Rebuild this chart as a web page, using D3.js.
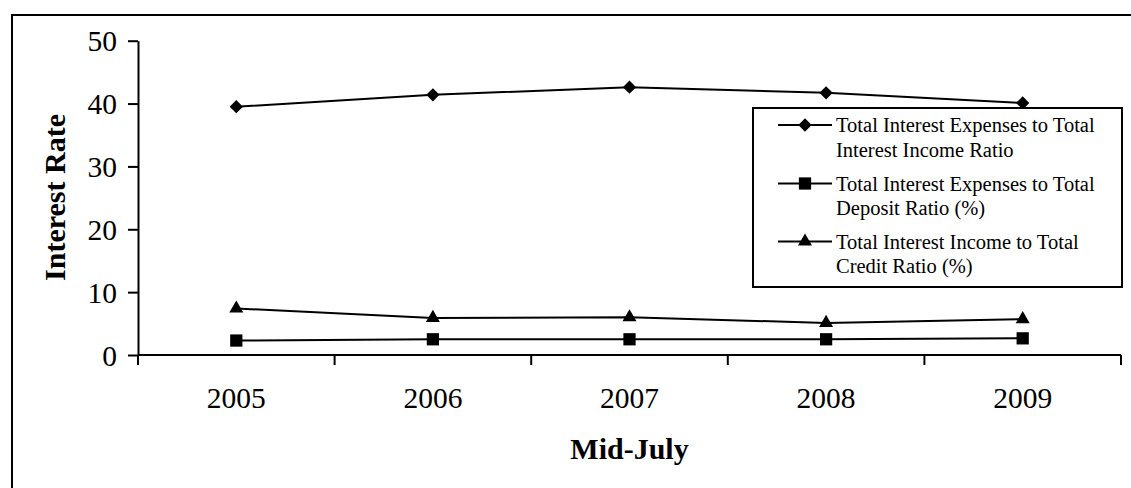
<!DOCTYPE html>
<html>
<head>
<meta charset="utf-8">
<script src="https://cdn.jsdelivr.net/npm/d3@7"></script>
<style>
  html, body { margin: 0; padding: 0; background: #fff; }
  svg { display: block; }
  text { font-family: "Liberation Serif", "Times New Roman", serif; fill: #000; }
</style>
</head>
<body>
<svg id="chart" width="1131" height="488"></svg>
<script>
// Mid-July year labels
const years = ["2005", "2006", "2007", "2008", "2009"];
// Total interest expenses / total interest income ratio
const expToIncome = [39.5, 41.4, 42.6, 41.7, 40.1];
// Total interest expenses / total deposit ratio (%)
const expToDeposit = [2.3, 2.5, 2.5, 2.5, 2.65];
// Total interest income / total credit ratio (%)
const incomeToCredit = [7.4, 5.9, 6.0, 5.1, 5.7];
const yTicks = [0, 10, 20, 30, 40, 50];

const seriesNames = [
  ["Total Interest Expenses to Total", "Interest Income Ratio"],
  ["Total Interest Expenses to Total", "Deposit Ratio (%)"],
  ["Total Interest Income to Total", "Credit Ratio (%)"]
];

const series = [
  { values: expToIncome, shape: "diamond", name: seriesNames[0] },
  { values: expToDeposit, shape: "square", name: seriesNames[1] },
  { values: incomeToCredit, shape: "triangle", name: seriesNames[2] }
];

const svg = d3.select("#chart");

// outer frame (open to the right and bottom)
svg.append("rect")
  .attr("x", 12).attr("y", 15)
  .attr("width", 1140).attr("height", 500)
  .attr("fill", "none").attr("stroke", "#000").attr("stroke-width", 2);

const x = d3.scaleBand().domain(years).range([138, 1121]).padding(0);
const y = d3.scaleLinear().domain([0, 50]).range([355, 40.7]);
const cx = d => x(d) + x.bandwidth() / 2;

// y axis
const yAxis = svg.append("g")
  .attr("transform", `translate(${x.range()[0]},0)`)
  .call(d3.axisLeft(y).tickValues(yTicks).tickSize(10).tickSizeOuter(0).tickPadding(11));
yAxis.select(".domain").attr("stroke-width", 2);
yAxis.selectAll(".tick line").attr("stroke-width", 2);
yAxis.selectAll(".tick text")
  .style("font-family", '"Liberation Serif", "Times New Roman", serif')
  .style("font-size", "29.5px")
  .attr("dy", "0.34em");

// x axis: baseline, category boundary ticks, centred labels
const xg = svg.append("g");
xg.append("line")
  .attr("x1", x.range()[0]).attr("x2", x.range()[1])
  .attr("y1", y(0)).attr("y2", y(0))
  .attr("stroke", "#000").attr("stroke-width", 2);
const bounds = d3.range(years.length + 1).map(i => x.range()[0] + i * x.step());
xg.selectAll("line.b").data(bounds).join("line")
  .attr("class", "b")
  .attr("x1", d => d).attr("x2", d => d)
  .attr("y1", y(0)).attr("y2", y(0) + 10)
  .attr("stroke", "#000").attr("stroke-width", 2);
xg.selectAll("text").data(years).join("text")
  .attr("x", d => cx(d)).attr("y", 408)
  .attr("text-anchor", "middle")
  .style("font-size", "29.5px")
  .text(d => d);

// axis titles
svg.append("text")
  .attr("transform", "translate(65,197.5) rotate(-90)")
  .attr("text-anchor", "middle")
  .style("font-size", "30px").style("font-weight", "bold")
  .text("Interest Rate");
svg.append("text")
  .attr("x", (x.range()[0] + x.range()[1]) / 2).attr("y", 459)
  .attr("text-anchor", "middle")
  .style("font-size", "30px").style("font-weight", "bold")
  .text("Mid-July");

// marker generators
function symbolPath(shape) {
  if (shape === "diamond") return d3.symbol(d3.symbolSquare, 88)();
  if (shape === "square") return d3.symbol(d3.symbolSquare, 150)();
  return d3.symbol(d3.symbolTriangle, 85)();
}
function symbolRot(shape) { return shape === "diamond" ? 45 : 0; }

const line = d3.line().x(d => cx(d.year)).y(d => y(d.v));

series.forEach(s => {
  const pts = years.map((yr, i) => ({ year: yr, v: s.values[i] }));
  svg.append("path")
    .datum(pts)
    .attr("d", line)
    .attr("fill", "none").attr("stroke", "#000").attr("stroke-width", 2);
  svg.selectAll(null).data(pts).join("path")
    .attr("d", symbolPath(s.shape))
    .attr("transform", d => `translate(${cx(d.year)},${y(d.v)}) rotate(${symbolRot(s.shape)})`)
    .attr("fill", "#000");
});

// legend
const lg = svg.append("g");
lg.append("rect")
  .attr("x", 753).attr("y", 108).attr("width", 369).attr("height", 179)
  .attr("fill", "#fff").attr("stroke", "#000").attr("stroke-width", 2);
const rowY = [125, 183.5, 241.5];
series.forEach((s, i) => {
  const ry = rowY[i];
  lg.append("line")
    .attr("x1", 778).attr("x2", 832).attr("y1", ry).attr("y2", ry)
    .attr("stroke", "#000").attr("stroke-width", 2);
  lg.append("path")
    .attr("d", symbolPath(s.shape))
    .attr("transform", `translate(805,${ry}) rotate(${symbolRot(s.shape)})`)
    .attr("fill", "#000");
  s.name.forEach((t, j) => {
    lg.append("text")
      .attr("x", 836).attr("y", ry + 7 + j * 24.5)
      .style("font-size", "20.5px")
      .text(t);
  });
});
</script>
</body>
</html>
